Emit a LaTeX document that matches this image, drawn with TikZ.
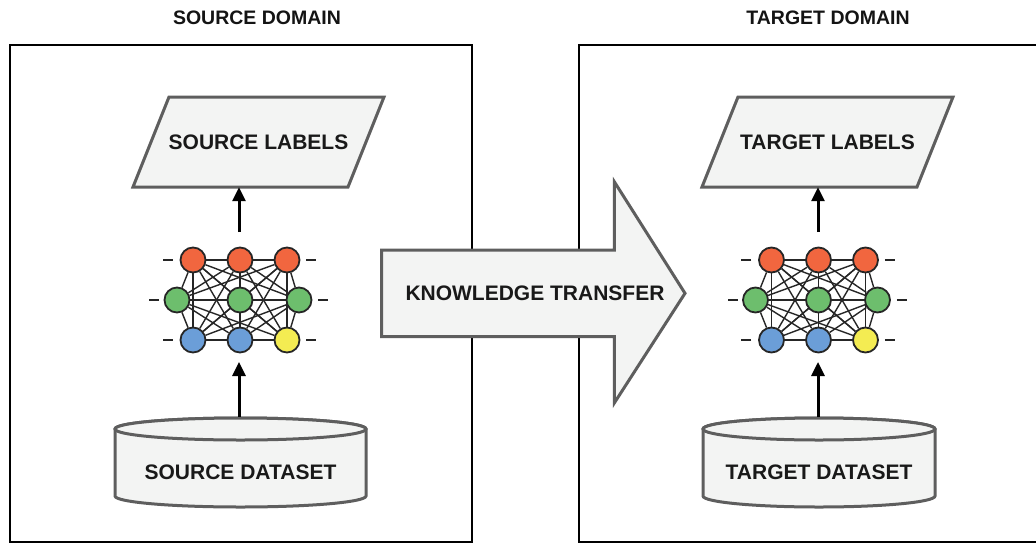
\documentclass[tikz,border=0pt]{standalone}
\usepackage{fontspec}
\setmainfont{Liberation Sans}
\usetikzlibrary{arrows.meta,backgrounds}
\definecolor{shapefill}{HTML}{F3F4F3}
\definecolor{shapeline}{HTML}{5E5E5E}
\definecolor{nred}{HTML}{F1663F}
\definecolor{ngreen}{HTML}{6DBE6D}
\definecolor{nblue}{HTML}{6B9ED8}
\definecolor{nyellow}{HTML}{F4EC52}
\definecolor{nline}{HTML}{262626}
\tikzset{
  domainbox/.style={draw=black,line width=1.5pt},
  title/.style={font=\fontsize{19.5}{22}\selectfont\bfseries,text=black!92},
  lbl/.style={font=\fontsize{21}{24}\selectfont\bfseries,text=black!90,inner sep=0pt},
  shapebox/.style={draw=shapeline,fill=shapefill,line width=3pt,line join=miter},
  neuron/.style={circle,draw=nline,line width=1.8pt,minimum size=25pt,inner sep=0pt},
  synapse/.style={draw=nline,line width=1.4pt},
  stub/.style={draw=black!85,line width=2.5pt},
  flow/.style={draw=black,line width=3pt,-{Triangle[length=14pt,width=13pt]}}
}
\newcommand{\nnet}[3]{% prefix, cx, cy
  \node[neuron,fill=nred]    (#1a1) at (#2-47,#3-40) {};
  \node[neuron,fill=nred]    (#1a2) at (#2,#3-40) {};
  \node[neuron,fill=nred]    (#1a3) at (#2+47,#3-40) {};
  \node[neuron,fill=ngreen]  (#1b1) at (#2-63,#3) {};
  \node[neuron,fill=ngreen]  (#1b2) at (#2,#3) {};
  \node[neuron,fill=ngreen]  (#1b3) at (#2+59,#3) {};
  \node[neuron,fill=nblue]   (#1c1) at (#2-47,#3+40) {};
  \node[neuron,fill=nblue]   (#1c2) at (#2,#3+40) {};
  \node[neuron,fill=nyellow] (#1c3) at (#2+47,#3+40) {};
  \begin{scope}[on background layer]
  \foreach \r in {a,b,c}{
    \draw[synapse] (#1\r1) -- (#1\r2) -- (#1\r3);
  }
  \foreach \i in {1,2,3}{\foreach \j in {1,2,3}{
    \draw[synapse] (#1a\i) -- (#1b\j);
    \draw[synapse] (#1b\i) -- (#1c\j);
    \draw[synapse] (#1a\i) -- (#1c\j);
  }}
  \end{scope}
  \foreach \n in {a1,c1}{\draw[stub] ([xshift=-7pt]#1\n.west) -- ++(-10pt,0);}
  \draw[stub] ([xshift=-4.5pt]#1b1.west) -- ++(-10pt,0);
  \foreach \n in {a3,b3,c3}{\draw[stub] ([xshift=6pt]#1\n.east) -- ++(10pt,0);}
}
\begin{document}
\begin{tikzpicture}[x=1pt,y=-1pt]
\clip (0,0) rectangle (1036,544);
\begin{scope}[on background layer]
\fill[white] (0,0) rectangle (1036,544);
\end{scope}

% domain boxes
\draw[domainbox] (10,45) rectangle (472,542);
\draw[domainbox] (1040,45) -- (579,45) -- (579,542) -- (1040,542);
\node[title] (srctitle) at (257,18) {SOURCE DOMAIN};
\node[title] (tgttitle) at (828,18) {TARGET DOMAIN};

% labels parallelograms
\draw[shapebox] (169,97) -- (384,97) -- (348,187) -- (133,187) -- cycle;
\node[lbl,minimum width=215pt,minimum height=90pt] (srclab) at (258.5,142) {SOURCE LABELS};
\draw[shapebox] (738,97) -- (953,97) -- (917,187) -- (702,187) -- cycle;
\node[lbl,minimum width=215pt,minimum height=90pt] (tgtlab) at (827.5,142) {TARGET LABELS};

% datasets (cylinders)
\draw[shapebox] (115,429) -- (115,496) arc[start angle=180,end angle=360,x radius=125.5pt,y radius=11pt]
  -- (366,429) arc[start angle=0,end angle=180,x radius=125.5pt,y radius=11pt] -- cycle;
\draw[shapebox] (240.5,429) ellipse[x radius=125.5pt,y radius=11pt];
\node[lbl,minimum width=251pt,minimum height=90pt] (srcdata) at (240.5,462) {};
\node[lbl] (srcdatatext) at (240.5,472) {SOURCE DATASET};

\draw[shapebox] (703,429) -- (703,496) arc[start angle=180,end angle=360,x radius=116pt,y radius=11pt]
  -- (935,429) arc[start angle=0,end angle=180,x radius=116pt,y radius=11pt] -- cycle;
\draw[shapebox] (819,429) ellipse[x radius=116pt,y radius=11pt];
\node[lbl,minimum width=232pt,minimum height=90pt] (tgtdata) at (819,462) {};
\node[lbl] (tgtdatatext) at (819,472) {TARGET DATASET};

% networks
\nnet{s}{240}{300}
\nnet{t}{818.5}{300}

% flows
\coordinate (sup) at (239,232);
\coordinate (sdn) at (239,362);
\coordinate (tup) at (818,232);
\coordinate (tdn) at (818,362);
\draw[flow] (sup) -- (sup |- srclab.south);
\draw[flow] (sup |- srcdata.north) -- (sdn);
\draw[flow] (tup) -- (tup |- tgtlab.south);
\draw[flow] (tup |- tgtdata.north) -- (tdn);

% knowledge transfer arrow
\draw[shapebox] (381.7,250) -- (614.3,250) -- (614.3,181.7) -- (685,293.3) -- (614.3,403) -- (614.3,336.7) -- (381.7,336.7) -- cycle;
\node[lbl] (kt) at (535,293.3) {KNOWLEDGE TRANSFER};
\end{tikzpicture}
\end{document}
